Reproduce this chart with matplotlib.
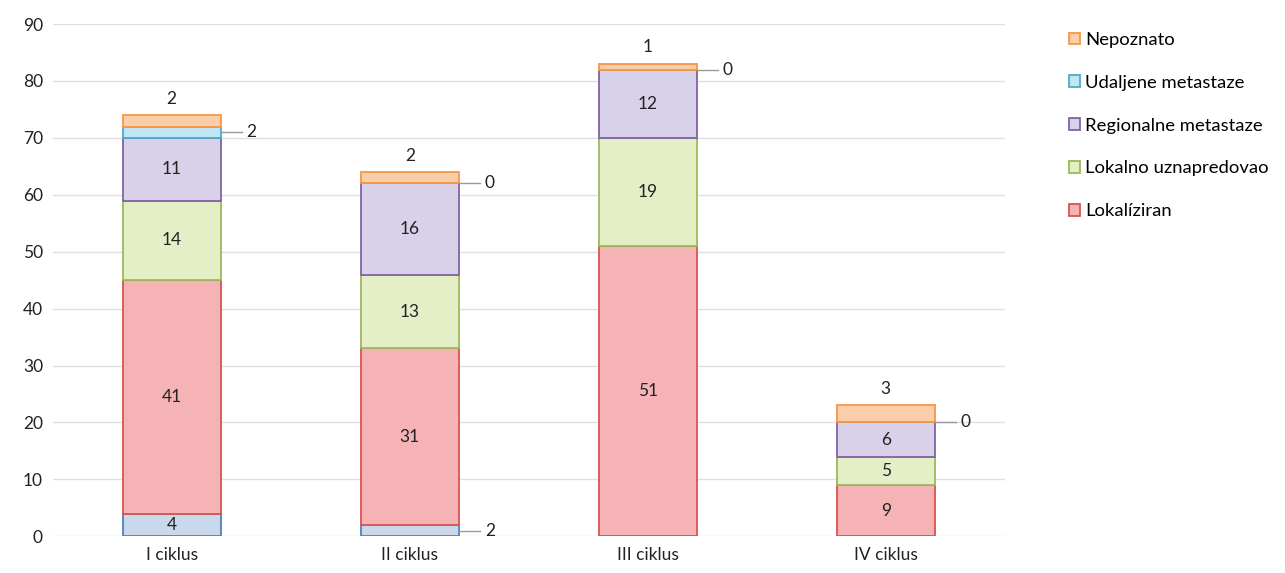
import numpy as np
import matplotlib.pyplot as plt
from matplotlib.patches import Patch

plt.rcParams['font.family'] = ['Lato', 'DejaVu Sans']

categories = ['I ciklus', 'II ciklus', 'III ciklus', 'IV ciklus']
in_situ = [4, 2, 0, 0]
lokaliziran = [41, 31, 51, 9]
lokalno = [14, 13, 19, 5]
regionalne = [11, 16, 12, 6]
udaljene = [2, 0, 0, 0]
nepoznato = [2, 2, 1, 3]

series = [
    ('In situ', in_situ, '#c9d8ec', '#4f81bd'),
    ('Lokalíziran', lokaliziran, '#f6b3b5', '#d9534f'),
    ('Lokalno uznapredovao', lokalno, '#e4efc8', '#9bbb59'),
    ('Regionalne metastaze', regionalne, '#d9d0e9', '#8064a2'),
    ('Udaljene metastaze', udaljene, '#bfe6f2', '#4bacc6'),
    ('Nepoznato', nepoznato, '#fbcda8', '#f79646'),
]

fig = plt.figure(figsize=(12.85, 5.73), dpi=100)
ax = fig.add_axes([0.041, 0.064, 0.741, 0.894])

x = np.arange(len(categories))
w = 0.41
bottom = np.zeros(len(categories))
for name, vals, fc, ec in series:
    vals = np.array(vals, dtype=float)
    ax.bar(x, vals, w, bottom=bottom, color=fc, edgecolor=ec, linewidth=1.3, zorder=3)
    for i, v in enumerate(vals):
        mid = bottom[i] + v / 2
        if name == 'Nepoznato':
            ax.text(x[i], bottom[i] + v + 1.5, f'{int(v)}', ha='center', va='bottom',
                    fontsize=12.5, color='#222222')
        elif v >= 4:
            ax.text(x[i], mid, f'{int(v)}', ha='center', va='center',
                    fontsize=12.5, color='#222222', zorder=4)
        elif name == 'Udaljene metastaze' or (name == 'In situ' and v > 0):
            ax.plot([x[i] + w / 2, x[i] + w / 2 + 0.09], [mid, mid], color='#999999', lw=1, zorder=4)
            ax.text(x[i] + w / 2 + 0.11, mid, f'{int(v)}', ha='left', va='center',
                    fontsize=12.5, color='#222222')
    bottom += vals

ax.set_xlim(-0.5, len(categories) - 0.5)
ax.set_ylim(0, 90)
ax.set_yticks(range(0, 91, 10))
ax.set_xticks(x)
ax.set_xticklabels(categories, fontsize=12.5, color='#222222')
ax.tick_params(axis='y', labelsize=12.5, labelcolor='#222222', length=0, pad=7)
ax.tick_params(axis='x', length=0, pad=8)
ax.grid(axis='y', color='#e0e0e0', lw=1, zorder=0)
for s in ax.spines.values():
    s.set_visible(False)

handles = [Patch(facecolor=fc, edgecolor=ec, lw=1.3, label=name)
           for name, vals, fc, ec in series[::-1] if name != 'In situ']
fig.legend(handles=handles, loc='upper left', bbox_to_anchor=(0.826, 0.957),
           frameon=False, fontsize=13.3, handlelength=0.6, handleheight=0.6,
           handletextpad=0.3, labelspacing=1.45, borderaxespad=0)

fig.savefig('out.png', dpi=100)
